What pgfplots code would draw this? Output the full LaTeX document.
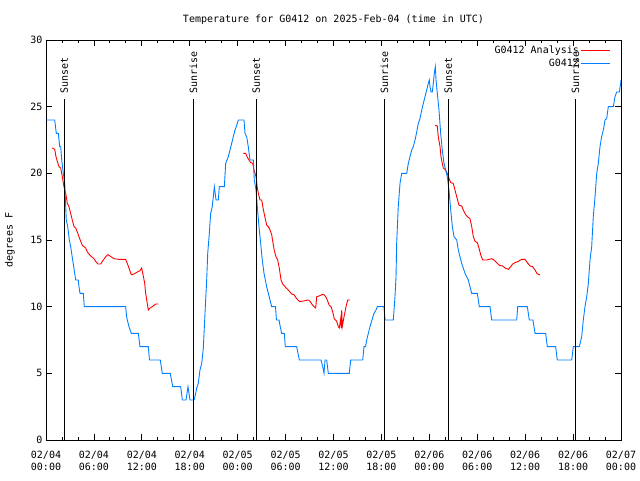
\documentclass[border=0pt]{standalone}
\usepackage{fontspec}
\setmainfont{DejaVu Sans Mono}
\usepackage{pgfplots}
\pgfplotsset{compat=1.18}

\definecolor{obsblue}{RGB}{0,128,255}
\definecolor{anared}{RGB}{255,0,0}

\newcommand{\gfont}{\fontsize{10}{12}\selectfont}

\begin{document}
\begin{tikzpicture}[x=1pt,y=1pt]
\begin{axis}[
  at={(0,0)}, anchor=south west,
  scale only axis, width=575pt, height=400pt,
  xmin=0, xmax=72, ymin=0, ymax=30,
  xtick={0,6,...,72}, minor x tick num=2,
  ytick={0,5,...,30},
  xticklabels={{02/04\\00:00},{02/04\\06:00},{02/04\\12:00},{02/04\\18:00},
               {02/05\\00:00},{02/05\\06:00},{02/05\\12:00},{02/05\\18:00},
               {02/06\\00:00},{02/06\\06:00},{02/06\\12:00},{02/06\\18:00},
               {02/07\\00:00}},
  xticklabel style={align=center, font=\gfont, yshift=-8pt},
  yticklabel style={font=\gfont},
  /pgf/number format/assume math mode=true,
  tick align=inside, major tick length=6pt, minor tick length=3pt,
  axis line style={line width=0.8pt}, every tick/.style={black, line width=0.8pt},
  ylabel={degrees F},
  every axis y label/.style={at={(axis description cs:-0.0626,0.5)}, rotate=90, anchor=center, font=\gfont},
  title={Temperature for G0412 on 2025-Feb-04 (time in UTC)},
  title style={at={(axis description cs:0.5,1)}, anchor=base, yshift=11pt, font=\gfont},
  legend plot pos=right,
  legend cell align=right,
  legend style={at={(1,1)}, anchor=north east, xshift=-9pt, yshift=-3pt, draw=none, fill=none,
                font=\gfont, row sep=0pt, inner sep=1pt},
  legend image code/.code={\draw[#1] (3pt,0pt) -- (32pt,0pt);},
]
% analysis (red), three pieces
\addplot[anared, line width=0.9pt] coordinates {
(0.79,21.9) (1.09,21.8) (1.25,21.25) (1.42,20.9) (1.63,20.5) (1.84,20.4) (2.04,19.75)
(2.25,19) (2.47,18.5) (2.67,17.75) (2.88,17.5) (3.09,17) (3.29,16.5) (3.51,16)
(3.72,15.9) (3.92,15.6) (4.13,15.25) (4.35,14.9) (4.55,14.6) (4.76,14.5) (4.97,14.4)
(5.17,14.1) (5.38,13.95) (5.60,13.8) (6.01,13.6) (6.22,13.4) (6.51,13.2) (6.85,13.2)
(7.18,13.5) (7.48,13.75) (7.76,13.9) (8.01,13.8) (8.51,13.6) (9.14,13.55) (9.98,13.55)
(10.18,13.25) (10.39,12.9) (10.68,12.4) (11.02,12.45) (11.43,12.6) (11.77,12.7)
(11.98,12.9) (12.15,12.4) (12.36,11.75) (12.48,11) (12.68,10.25) (12.81,9.75)
(13.02,9.9) (13.31,10) (13.74,10.2) (14.06,10.2)
};
\addlegendentry{G0412 Analysis}
\addplot[anared, line width=0.9pt, forget plot] coordinates {
(24.71,21.5) (25.01,21.5) (25.21,21.2) (25.42,21) (25.63,20.8) (25.88,20.75) (26.05,20.25)
(26.30,19.75) (26.46,18.9) (26.63,18.4) (26.80,18) (27.01,18) (27.21,17.3) (27.42,16.7)
(27.64,16.1) (27.84,16) (28.05,15.75) (28.26,15.4) (28.39,14.9) (28.59,14.2) (28.80,13.75)
(29.01,13.5) (29.21,12.9) (29.43,12) (29.64,11.7) (29.93,11.5) (30.34,11.25) (30.77,10.95)
(31.05,10.9) (31.39,10.6) (31.72,10.4) (32.02,10.4) (32.43,10.45) (32.85,10.5) (33.06,10.4)
(33.27,10.2) (33.56,10) (33.77,9.9) (33.90,10.75) (34.19,10.8) (34.52,10.9) (34.81,10.9)
(35.02,10.75) (35.22,10.5) (35.47,10.1) (35.69,10) (35.90,9.6) (36.10,9.1) (36.40,8.9)
(36.60,8.5) (36.73,8.4) (36.90,9.1) (36.98,8.4) (37.03,9.75) (37.10,8.5) (37.32,9.25)
(37.57,10) (37.78,10.5) (38.07,10.5)
};
\addplot[anared, line width=0.9pt, forget plot] coordinates {
(48.71,23.6) (49.00,23.55) (49.12,22.75) (49.34,22) (49.46,21.25) (49.62,20.75) (49.75,20.4)
(49.96,20.3) (50.18,20.1) (50.38,19.75) (50.68,19.3) (51.00,19.25) (51.21,18.75)
(51.43,18.25) (51.72,17.6) (52.05,17.55) (52.25,17.25) (52.55,16.9) (52.76,16.75)
(53.09,16.6) (53.31,16) (53.51,15.25) (53.72,14.9) (54.01,14.8) (54.22,14.4) (54.43,13.9)
(54.68,13.5) (55.18,13.5) (55.81,13.6) (56.10,13.5) (56.44,13.3) (56.76,13.1) (57.19,13.05)
(57.48,12.9) (57.89,12.8) (58.19,13) (58.44,13.2) (58.73,13.3) (59.14,13.4) (59.57,13.55)
(59.98,13.55) (60.27,13.3) (60.61,13.05) (60.94,13) (61.23,12.75) (61.52,12.45) (61.86,12.4)
};
% observations (blue)
\addplot[obsblue, line width=0.9pt] coordinates {
(0,24) (1.09,24) (1.29,23) (1.54,23) (1.72,22) (1.84,22) (1.97,21) (2.17,20) (2.34,19.3)
(2.47,17.5) (2.54,16.5) (2.72,16) (2.92,15) (3.09,14.5) (3.29,13.7) (3.54,12.7) (3.72,12)
(4.04,12) (4.13,11.5) (4.26,11) (4.67,11) (4.80,10) (9.98,10) (10.08,9.3) (10.18,9)
(10.39,8.5) (10.68,8) (11.56,8) (11.77,7) (12.81,7) (12.96,6) (14.31,6) (14.56,5)
(15.56,5) (15.87,4) (16.87,4) (17.07,3) (17.53,3) (17.78,4) (18.03,3) (18.53,3)
(18.66,3.25) (18.87,3.9) (19.07,4.25) (19.28,5.25) (19.50,5.75) (19.70,6.9) (19.91,9.5)
(20.12,12) (20.25,14) (20.45,15.5) (20.62,17) (20.82,17.5) (21.08,19) (21.29,18)
(21.58,18) (21.70,19) (22.33,19) (22.50,20.75) (22.83,21.25) (23.04,21.75) (23.25,22.25)
(23.45,22.75) (23.67,23.25) (23.88,23.6) (24.08,24) (24.79,24) (24.92,23) (25.13,22.75)
(25.33,22) (25.54,21) (25.96,21) (26.08,19.5) (26.30,18.75) (26.46,17.5) (26.67,16)
(26.88,14.75) (27.08,13.5) (27.30,12.5) (27.63,11.5) (27.84,11) (28.05,10.5) (28.26,10)
(28.74,10) (28.86,9) (29.18,9) (29.30,8.6) (29.51,8) (29.84,8) (29.97,7) (31.39,7)
(31.72,6) (34.44,6) (34.65,5.5) (34.81,5) (34.94,6) (35.15,6) (35.35,5) (37.98,5)
(38.15,6) (39.66,6) (39.82,7) (40.01,7) (40.16,7.5) (40.36,8) (40.57,8.5) (40.82,9)
(41.07,9.5) (41.32,9.75) (41.49,10) (42.32,10) (42.45,9) (43.49,9) (43.70,10.75)
(43.83,12.25) (43.91,14.75) (44.11,17.5) (44.33,19.25) (44.54,20) (45.17,20) (45.37,20.75)
(45.58,21.25) (45.79,21.75) (45.99,22) (46.21,22.5) (46.42,23.1) (46.62,23.75) (46.83,24.1)
(47.05,24.75) (47.25,25.25) (47.46,25.75) (47.67,26.25) (47.87,26.75) (48.00,27)
(48.08,26.5) (48.21,26.1) (48.37,26.1) (48.50,26.75) (48.62,27.5) (48.75,28) (48.84,27)
(49.00,26) (49.21,24.75) (49.42,23) (49.62,21.75) (49.84,20.75) (50.05,20.25) (50.25,19.75)
(50.46,18.75) (50.68,17.25) (50.88,16) (51.09,15.25) (51.43,15) (51.63,14.25) (51.84,13.75)
(52.05,13.25) (52.47,12.5) (52.88,12) (53.09,11.5) (53.31,11) (54.01,11) (54.26,10)
(55.60,10) (55.81,9) (58.94,9) (59.07,10) (60.27,10) (60.52,9) (60.98,9) (61.23,8)
(62.57,8) (62.77,7) (63.82,7) (64.02,6) (65.83,6) (66.03,7) (66.78,7) (67.08,7.75)
(67.28,9) (67.49,10) (67.71,10.75) (67.91,11.75) (68.12,13.5) (68.33,14.5) (68.53,16.75)
(68.75,18.25) (68.96,20) (69.16,20.75) (69.37,22) (69.58,22.75) (69.79,23.25) (70.00,24)
(70.21,24.1) (70.41,25) (71.04,25) (71.25,25.75) (71.46,26.1) (71.79,26.1) (71.96,26.75)
(72,27)
};
\addlegendentry{G0412}
% sunset / sunrise markers
\addplot[black, line width=0.9pt, forget plot] coordinates {(2.29,0) (2.29,25.6)}
  node[pos=1, rotate=90, anchor=west, inner sep=5pt, font=\gfont] {Sunset};
\addplot[black, line width=0.9pt, forget plot] coordinates {(18.45,0) (18.45,25.6)}
  node[pos=1, rotate=90, anchor=west, inner sep=5pt, font=\gfont] {Sunrise};
\addplot[black, line width=0.9pt, forget plot] coordinates {(26.34,0) (26.34,25.6)}
  node[pos=1, rotate=90, anchor=west, inner sep=5pt, font=\gfont] {Sunset};
\addplot[black, line width=0.9pt, forget plot] coordinates {(42.37,0) (42.37,25.6)}
  node[pos=1, rotate=90, anchor=west, inner sep=5pt, font=\gfont] {Sunrise};
\addplot[black, line width=0.9pt, forget plot] coordinates {(50.38,0) (50.38,25.6)}
  node[pos=1, rotate=90, anchor=west, inner sep=5pt, font=\gfont] {Sunset};
\addplot[black, line width=0.9pt, forget plot] coordinates {(66.30,0) (66.30,25.6)}
  node[pos=1, rotate=90, anchor=west, inner sep=5pt, font=\gfont] {Sunrise};
\end{axis}
\pgfresetboundingbox
\useasboundingbox (-46pt,-40pt) rectangle (594pt,440pt);
\end{tikzpicture}
\end{document}
